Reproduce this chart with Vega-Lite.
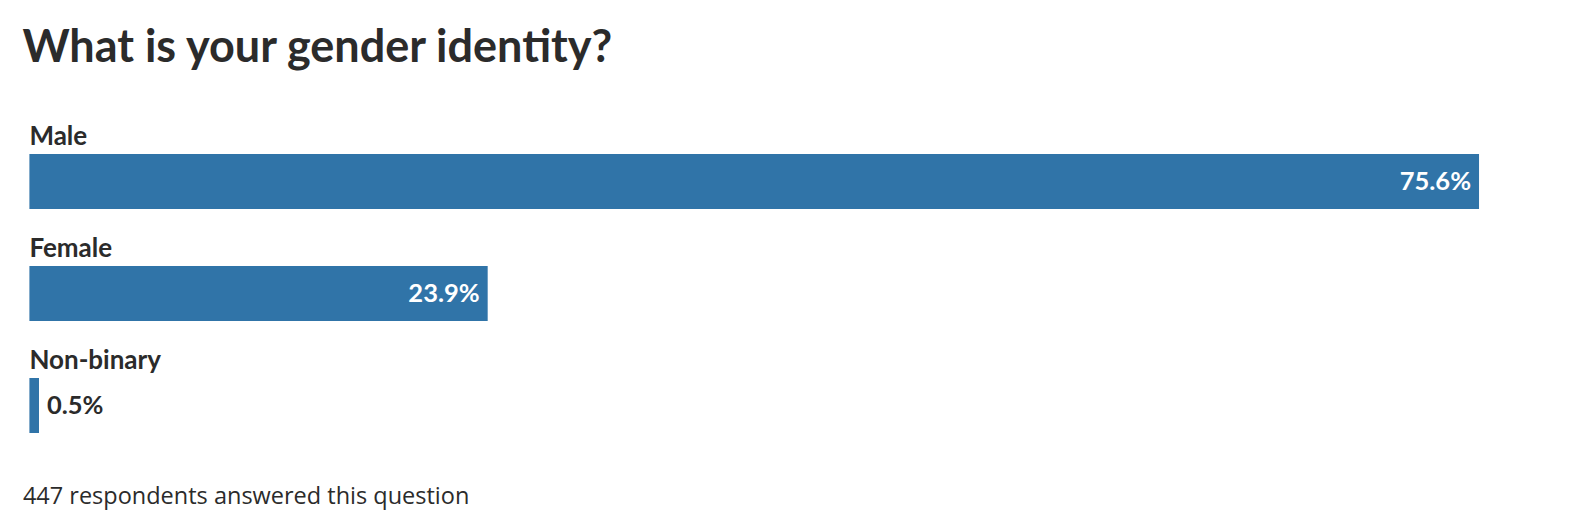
{
  "$schema": "https://vega.github.io/schema/vega-lite/v6.json",
  "width": 1534,
  "height": 336,
  "autosize": "none",
  "padding": {"left": 29.4, "top": 125.5, "right": 24.6, "bottom": 70.5},
  "background": "white",
  "view": {"stroke": null},
  "title": {
    "text": "What is your gender identity?",
    "anchor": "start",
    "frame": "group",
    "dx": -7,
    "offset": 17.5,
    "baseline": "alphabetic",
    "font": "Lato",
    "fontSize": 45,
    "fontWeight": "bold",
    "color": "#2b2b2b"
  },
  "data": {
    "values": [
      {"answer": "Male", "share": 0.756},
      {"answer": "Female", "share": 0.239},
      {"answer": "Non-binary", "share": 0.005}
    ]
  },
  "encoding": {
    "y": {
      "field": "answer",
      "type": "nominal",
      "sort": null,
      "scale": {"paddingInner": 0, "paddingOuter": 0},
      "axis": null
    }
  },
  "layer": [
    {
      "mark": {"type": "bar", "height": 55, "color": "#3074a8"},
      "encoding": {
        "x": {
          "field": "share",
          "type": "quantitative",
          "scale": {"domain": [0, 0.8], "nice": false},
          "axis": {
            "domain": false,
            "ticks": false,
            "labels": false,
            "grid": false,
            "title": "447 respondents answered this question",
            "titleX": -7,
            "titleY": 42,
            "titleAlign": "left",
            "titleBaseline": "alphabetic",
            "titleAnchor": null,
            "titleFont": "Open Sans",
            "titleFontSize": 23.5,
            "titleFontWeight": "normal",
            "titleColor": "#2b2b2b"
          }
        }
      }
    },
    {
      "mark": {
        "type": "text",
        "align": "left",
        "baseline": "alphabetic",
        "dy": -36.5,
        "font": "Lato",
        "fontSize": 26,
        "fontWeight": "bold",
        "color": "#2b2b2b"
      },
      "encoding": {
        "x": {"datum": 0, "type": "quantitative"},
        "text": {"field": "answer"}
      }
    },
    {
      "transform": [{"filter": "datum.share >= 0.05"}],
      "mark": {
        "type": "text",
        "align": "right",
        "baseline": "middle",
        "dx": -8,
        "font": "Lato",
        "fontSize": 25.5,
        "fontWeight": "bold",
        "color": "white"
      },
      "encoding": {
        "x": {"field": "share", "type": "quantitative"},
        "text": {"field": "share", "type": "quantitative", "format": ".1%"}
      }
    },
    {
      "transform": [{"filter": "datum.share < 0.05"}],
      "mark": {
        "type": "text",
        "align": "left",
        "baseline": "middle",
        "dx": 8,
        "font": "Lato",
        "fontSize": 25.5,
        "fontWeight": "bold",
        "color": "#2b2b2b"
      },
      "encoding": {
        "x": {"field": "share", "type": "quantitative"},
        "text": {"field": "share", "type": "quantitative", "format": ".1%"}
      }
    }
  ]
}
